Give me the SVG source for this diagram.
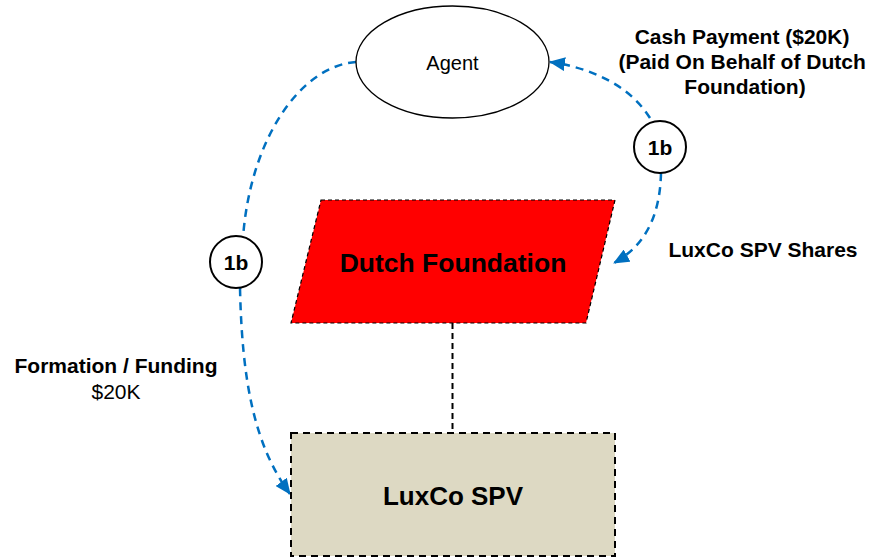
<svg xmlns="http://www.w3.org/2000/svg" width="875" height="559" viewBox="0 0 875 559">
  <style>
    text { font-family: "Liberation Sans", Arial, sans-serif; fill: #000; }
    .b { font-weight: bold; }
    .flow { fill: none; stroke: #0070C0; stroke-width: 2.5; stroke-dasharray: 8 6; }
    .tag { fill: #fff; stroke: #000; stroke-width: 2; }
  </style>
  <defs>
    <marker id="arrow" markerUnits="userSpaceOnUse" markerWidth="16" markerHeight="14" refX="15" refY="7" orient="auto">
      <path d="M0,0 L16,7 L0,14 Z" fill="#0070C0"/>
    </marker>
  </defs>

  <!-- connectors -->
  <g id="connectors">
    <line x1="452.5" y1="323" x2="452.5" y2="433" stroke="#000" stroke-width="2" stroke-dasharray="6 4"/>
    <path class="flow" d="M356,62 C300,66 250,140 243,238"/>
    <path class="flow" d="M240,288 C242,380 254,445 290,494" marker-end="url(#arrow)"/>
    <path class="flow" d="M650,118 C630,86 592,68 550,62" marker-end="url(#arrow)"/>
    <path class="flow" d="M661,173 C660,215 646,245 614,263" marker-end="url(#arrow)"/>
  </g>

  <g id="agent">
    <ellipse cx="452.5" cy="62" rx="96.5" ry="56" fill="#fff" stroke="#000" stroke-width="1.3"/>
    <text x="452.5" y="70" font-size="20" text-anchor="middle">Agent</text>
  </g>

  <g id="dutch-foundation">
    <polygon points="321,200 615,200 586,323 291,323" fill="#FF0000" stroke="#000" stroke-width="1.2" stroke-dasharray="4 3"/>
    <text class="b" x="453" y="272" font-size="26.5" text-anchor="middle">Dutch Foundation</text>
  </g>

  <g id="luxco-spv">
    <rect x="291" y="433" width="324" height="123" fill="#DDD9C3" stroke="#000" stroke-width="2" stroke-dasharray="7 5"/>
    <text class="b" x="453" y="505" font-size="26" text-anchor="middle">LuxCo SPV</text>
  </g>

  <g id="step-left">
    <circle class="tag" cx="236" cy="262" r="26"/>
    <text class="b" x="236" y="270" font-size="21" text-anchor="middle">1b</text>
  </g>

  <g id="step-right">
    <circle class="tag" cx="660" cy="147" r="26"/>
    <text class="b" x="660" y="155" font-size="21" text-anchor="middle">1b</text>
  </g>

  <g id="labels">
    <text class="b" font-size="21" text-anchor="middle">
      <tspan x="745" y="44">Cash Payment ($20K)</tspan>
      <tspan x="745" y="69">(Paid On Behalf of Dutch</tspan>
      <tspan x="745" y="94">Foundation)</tspan>
    </text>
    <text class="b" x="763" y="257" font-size="21" text-anchor="middle">LuxCo SPV Shares</text>
    <text class="b" x="116" y="373" font-size="21" text-anchor="middle">Formation / Funding</text>
    <text x="116" y="399" font-size="21" text-anchor="middle">$20K</text>
  </g>
</svg>
